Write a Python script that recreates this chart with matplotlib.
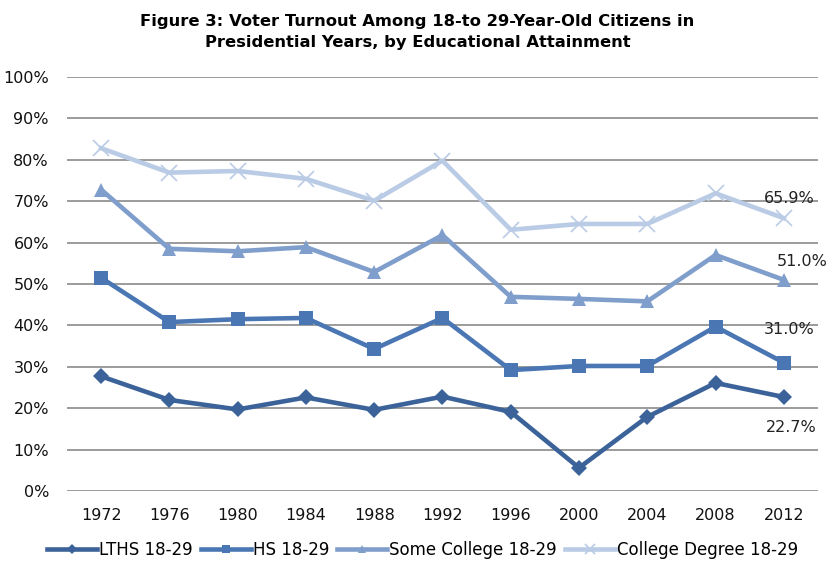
import numpy as np
import matplotlib
matplotlib.use('Agg')
import matplotlib.pyplot as plt
from matplotlib.ticker import PercentFormatter

years = ['1972','1976','1980','1984','1988','1992','1996','2000','2004','2008','2012']

lths = [27.7, 22.0, 19.7, 22.6, 19.6, 22.8, 19.1, 5.6, 17.9, 26.1, 22.7]
hs = [51.5, 40.8, 41.5, 41.8, 34.3, 41.8, 29.2, 30.2, 30.2, 39.7, 31.0]
somecol = [72.8, 58.5, 57.9, 58.9, 52.9, 61.8, 46.9, 46.4, 45.8, 57.0, 51.0]
coldeg = [82.8, 76.9, 77.3, 75.4, 70.1, 79.8, 63.1, 64.5, 64.5, 71.9, 65.9]

labels = ['LTHS 18-29', 'HS 18-29', 'Some College 18-29', 'College Degree 18-29']
series = [lths, hs, somecol, coldeg]
colors = ['#3b6399', '#4a77b4', '#7f9ecb', '#b9cbe5']
markers = ['D', 's', '^', 'x']
msizes = [8, 10, 10, 11]
# label offsets (points) for the 2012 end labels
offsets = [(5, -22), (4, 24), (13, 13), (4, 14)]

fig = plt.figure(figsize=(8.35, 5.72), dpi=100)
ax = fig.add_axes([0.0802, 0.1416, 0.8994, 0.7238])

x = np.arange(len(years))
for i in range(len(series)):
    y = np.array(series[i]) / 100.
    mew = 1.2 if markers[i] == 'x' else 0
    ax.plot(x, y, color=colors[i], lw=3.3, marker=markers[i], ms=msizes[i],
            mec=colors[i], mfc=colors[i], mew=mew, label=labels[i], zorder=3)
    ax.annotate('{:.1f}%'.format(series[i][-1]), (x[-1], y[-1]),
                xytext=offsets[i], textcoords='offset points',
                ha='center', va='center', fontsize=11.5, color='#222222')

ax.set_xlim(-0.5, len(years) - 0.5)
ax.set_ylim(0, 1.0)
ax.set_yticks(np.arange(0, 1.01, 0.1))
ax.yaxis.set_major_formatter(PercentFormatter(1.0, decimals=0))
ax.set_xticks(x)
ax.set_xticklabels(years)
ax.tick_params(axis='both', length=0, labelsize=11.5, colors='#111111')
ax.tick_params(axis='x', pad=12)
ax.tick_params(axis='y', pad=13)
ax.grid(axis='y', color='#939393', lw=1.3)
ax.set_axisbelow(True)
for s in ax.spines.values():
    s.set_visible(False)

fig.text(0.5, 0.962, 'Figure 3: Voter Turnout Among 18-to 29-Year-Old Citizens in',
         ha='center', va='center', fontsize=11.8, fontweight='bold')
fig.text(0.5, 0.925, 'Presidential Years, by Educational Attainment',
         ha='center', va='center', fontsize=11.8, fontweight='bold')

leg = fig.legend(loc='center', bbox_to_anchor=(0.506, 0.038), ncol=4, frameon=False,
                 fontsize=12, handlelength=3.0, handletextpad=0.1, columnspacing=0.5,
                 markerscale=0.6)

fig.savefig('out.png', dpi=100)
